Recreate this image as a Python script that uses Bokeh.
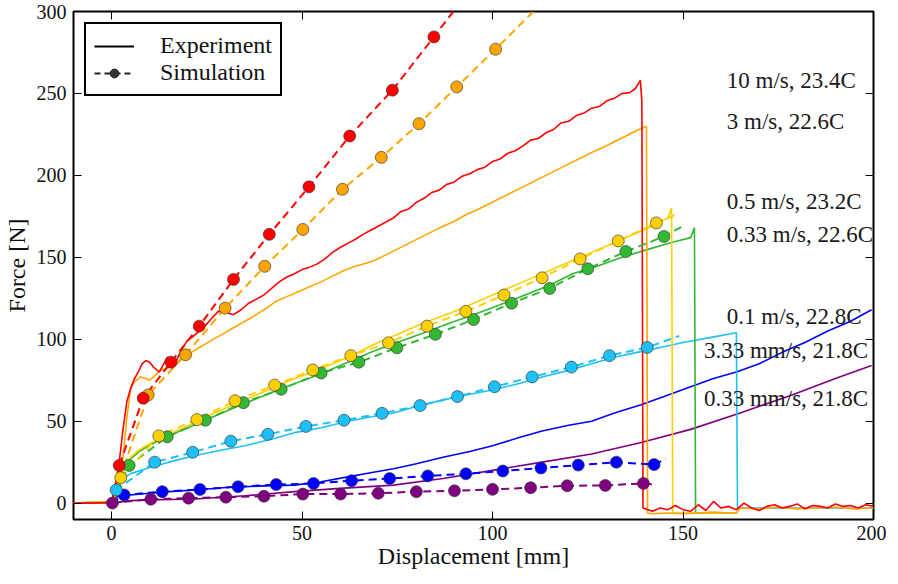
from bokeh.plotting import figure
from bokeh.models import Range1d, LinearAxis, FixedTicker, Legend, LegendItem, ColumnDataSource
from bokeh.core.properties import value
from bokeh.embed import file_html
from bokeh.resources import INLINE

FONT = "'Liberation Serif', 'DejaVu Serif', serif"
NAN = float("nan")

x_ticks = [0, 50, 100, 150, 200]
y_ticks = [0, 50, 100, 150, 200, 250, 300]

# ---------------- experiment (solid) ----------------
exp_red_x = [-10, -5, 0, 1, 2, 3, 4, 5, 6, 7, 8, 9, 10, 11, 12.5, 13.5, 14.6, 16, 17, 18, 19.8, 21, 22, 23,
             24.5, 26, 28, 30, 32, 34, 36, 38, 40, 42, 44, 46, 48, 50, 52, 54, 56, 58, 60, 62, 64, 66, 68,
             70, 72, 74, 76, 78, 80, 82, 84, 86, 88, 90, 92, 94, 96, 98, 100, 102, 104, 106, 108, 110, 112,
             114, 116, 118, 120, 122, 124, 126, 128, 130, 132, 134, 136, 137.5, 138.8, 139.2, 139.5,
             142, 144, 146, 148, 150, 152, 154, 156, 158, 160, 162, 164, 166, 168, 170, 172, 174, 176, 178,
             180, 182, 184, 186, 188, 190, 192, 194, 196, 198, 200]
exp_red_y = [0, 0, 0.5, 10, 25, 45, 62, 70, 76, 80, 85, 87, 86, 83, 80, 84, 89, 88, 87, 92, 99, 101, 103, 105,
             108, 112, 117, 116.5, 115, 118, 122, 124.5, 127, 131, 135, 138, 140, 142.5, 144, 146, 149, 153,
             156, 158.5, 161, 164, 166.5, 169, 171.5, 174, 178, 179.5, 183.5, 186, 189.5, 191, 194.5, 196,
             199.5, 201, 203.5, 205, 208.5, 210, 213.5, 215, 218, 221.5, 222.5, 226, 228, 232, 233, 236.5,
             238, 241, 242, 245.5, 247, 250, 250.5, 253, 258, 245, -3,
             -5, -3, -4, -1.5, -4, -5, -1, -4.5, 1, -3, -2, -4, 0, -3, -4.5, -2, -1, -3, -2, -0.5, -3.5, -1.5,
             -2, -3, -0.5, -2, -1.5, -3, -1, -2, -1.5]

exp_orange_x = [-10, -5, 0, 1, 2, 3, 4, 5, 6, 7.6, 9, 10, 11.5, 12.8, 14, 15.4, 17, 19, 21, 23, 26, 29, 32, 35,
                38, 41, 43, 46, 49, 52, 55, 58, 61, 64, 67, 69, 72, 75, 78, 81, 84, 87, 90, 93, 96, 99, 102,
                105, 108, 111, 114, 117, 120, 123, 126, 129, 132, 135, 138, 140.4, 140.7, 142, 146, 150, 154,
                158, 162, 164, 165, 170, 175, 180, 185, 190, 195, 200]
exp_orange_y = [0, 0, 0.3, 4, 12, 28, 52, 70, 74, 77, 76, 75, 78, 81, 82, 83, 86, 89, 92, 95, 99, 103, 107,
                111, 115, 119.5, 123, 126, 129, 132, 135, 138.5, 142, 144.5, 146.5, 148, 151.5, 155, 158.5,
                162, 165.5, 169, 172, 176, 179, 182.5, 186, 189.5, 193, 196.5, 200, 203.5, 207, 210.5, 214,
                217, 220.5, 224, 227.5, 230, -6, -6.5, -6, -6.5, -6, -5.5, -6, -6, -3, -3.5, -2.5, -3.5, -3,
                -2.5, -3.5, -3]

exp_yellow_x = [-10, 0, 1, 2.4, 3.5, 5, 7, 9, 11, 14, 18, 22, 27, 33, 40, 47, 55, 62, 69, 76, 82, 89, 95, 102,
                108, 115, 121, 128, 134, 141, 146, 147, 147.3, 164]
exp_yellow_y = [0, 1, 8, 16, 22, 28, 32, 35, 37.5, 41, 45, 49.5, 55, 61, 68, 75, 82, 89, 97, 104, 110, 116,
                122, 129, 135, 142, 148, 155, 161, 168, 174, 180, -6, -6]

exp_green_x = [-10, 0, 1, 2.4, 3.5, 5, 7, 9, 11, 14, 18, 22, 27, 33, 40, 47, 55, 62, 69, 76, 82, 89, 95, 102,
               108, 115, 121, 128, 134, 141, 147, 152, 153, 153.3, 164]
exp_green_y = [0, 1, 8, 16, 21, 27, 31, 34, 36.5, 40, 44, 48, 53, 59, 65.5, 72, 79, 86, 93, 99, 104, 110, 115,
               121, 126.5, 133, 140, 145, 150, 155, 159, 162, 168, -6, -6]

exp_cyan_x = [-10, 0, 0.8, 1.5, 3, 5, 9, 15, 22, 28, 35, 42, 48, 55, 62, 69, 74, 80, 87, 93, 100, 107, 113,
              120, 126, 132, 138, 144, 150, 157, 164, 164.3, 200]
exp_cyan_y = [0, 1, 6, 11, 15, 18, 21, 25, 29, 32, 35, 39, 43, 46, 50, 53, 55, 59, 63, 66, 69, 73, 77, 81, 85,
              89, 92, 95, 98, 101, 104, -3, -3]

exp_blue_x = [-10, 0, 1, 2, 5, 10, 15, 22, 30, 40, 48, 55, 62, 68, 74, 80, 87, 94, 100, 107, 113, 120, 126,
              132, 139, 145, 152, 158, 164, 170, 176, 182, 188, 194, 199.5]
exp_blue_y = [0, 0.5, 3, 4.5, 5, 6, 7, 8, 9.5, 10.5, 11, 13, 16, 18.5, 21, 24, 28, 31.5, 35, 40, 44, 47.5, 50,
              55, 60, 65, 71, 76, 80, 85, 92, 98, 105, 111, 118]

exp_purple_x = [-10, 0, 5, 10, 22, 35, 48, 60, 74, 87, 100, 113, 126, 139, 152, 165, 178.6, 190, 199.5]
exp_purple_y = [0, 0, 1.5, 2, 2.5, 4.5, 7, 9, 11, 15, 20, 25, 30, 37, 45, 55, 66, 76, 84]

# ---------------- simulation (dashed + markers; first/last are line ends) ----------------
sim_red_x = [0, 2, 8.3, 15.6, 23, 32, 41.4, 51.8, 62.5, 73.7, 84.6, 92]
sim_red_y = [0, 23, 64, 86, 108, 136.5, 164, 193, 224, 252, 284.5, 307]
sim_orange_x = [0, 9.6, 19.4, 29.8, 40.2, 50.2, 60.6, 70.8, 80.7, 90.6, 100.8, 112]
sim_orange_y = [0, 66, 90.5, 119, 144.5, 167, 191.5, 211, 231.5, 254, 277, 303]
sim_yellow_x = [0, 2.4, 12.4, 22.4, 32.4, 42.8, 52.8, 62.8, 72.7, 82.8, 93, 103, 113, 123, 133, 143, 148]
sim_yellow_y = [0, 15.5, 41, 51, 62.5, 72, 81.3, 90, 97.8, 108, 117, 127, 137.5, 149, 160, 171, 176]
sim_green_x = [0, 4.6, 14.6, 24.6, 34.6, 44.5, 55, 64.9, 74.9, 85, 95, 105, 115, 125, 135, 145, 150]
sim_green_y = [0, 23, 40.5, 50.6, 61.3, 69.5, 79.4, 86, 94.8, 103, 112, 122, 131, 143, 153.5, 162.7, 169]
sim_cyan_x = [0, 1.2, 11.3, 21.3, 31.3, 41, 51, 61, 71, 81, 90.8, 100.5, 110.4, 120.7, 130.7, 140.6, 149]
sim_cyan_y = [0, 8, 25, 31, 37.8, 42, 46.8, 50.6, 54.8, 59.5, 65, 71, 77, 83, 90, 95, 102]
sim_blue_x = [0, 3.3, 13.3, 23.2, 33.2, 43.2, 53, 63, 73, 83, 93, 102.7, 112.7, 122.5, 132.5, 142.4, 145.5]
sim_blue_y = [0, 5, 7, 8.3, 10, 11.3, 12, 13.7, 15, 16.6, 17.9, 19.6, 21.4, 23.2, 25, 23.5, 27]
sim_purple_x = [0, 0.2, 10.3, 20.2, 30, 40, 50.2, 60.1, 70, 80, 90, 100, 110, 119.6, 129.6, 139.6, 142.4]
sim_purple_y = [0, 0, 2.4, 3, 3.6, 4.2, 5.5, 5.5, 6, 7, 7.5, 8.4, 9.4, 10.6, 10.8, 12, 11.3]

# ---------------- annotations ----------------
ann_text = ["10 m/s, 23.4C", "3 m/s, 22.6C", "0.5 m/s, 23.2C", "0.33 m/s, 22.6C",
            "0.1 m/s, 22.8C", "3.33 mm/s, 21.8C", "0.33 mm/s, 21.8C"]
ann_x = [161.5, 161.5, 161.5, 161.5, 161.5, 155.5, 155.5]
ann_y = [258, 233, 184, 164, 114, 93, 64]

legend_labels = ["Experiment", "Simulation"]

colors = {
    "purple": "#800080",
    "blue": "#0000ff",
    "cyan": "#1ec0f5",
    "green": "#32b832",
    "yellow": "#ffd000",
    "orange": "#ffa500",
    "red": "#ff0000",
}

exp = {
    "purple": (exp_purple_x, exp_purple_y),
    "blue": (exp_blue_x, exp_blue_y),
    "cyan": (exp_cyan_x, exp_cyan_y),
    "green": (exp_green_x, exp_green_y),
    "yellow": (exp_yellow_x, exp_yellow_y),
    "orange": (exp_orange_x, exp_orange_y),
    "red": (exp_red_x, exp_red_y),
}
sim = {
    "purple": (sim_purple_x, sim_purple_y),
    "blue": (sim_blue_x, sim_blue_y),
    "cyan": (sim_cyan_x, sim_cyan_y),
    "green": (sim_green_x, sim_green_y),
    "yellow": (sim_yellow_x, sim_yellow_y),
    "orange": (sim_orange_x, sim_orange_y),
    "red": (sim_red_x, sim_red_y),
}

p = figure(frame_width=800, frame_height=508, x_range=Range1d(-10, 200), y_range=Range1d(-10, 300),
           output_backend="svg", toolbar_location=None,
           min_border_left=69, min_border_right=13, min_border_top=11, min_border_bottom=10)
p.xgrid.visible = False
p.ygrid.visible = False
p.outline_line_color = "black"
p.outline_line_width = 2
p.outline_line_alpha = 1
p.background_fill_color = "white"
p.border_fill_color = "white"

def style_axis(ax, ticks, show_labels=True):
    ax.ticker = FixedTicker(ticks=ticks)
    ax.axis_line_color = None
    ax.major_tick_in = 8
    ax.major_tick_out = 0
    ax.minor_tick_in = 0
    ax.minor_tick_out = 0
    ax.major_tick_line_color = "black"
    ax.major_tick_line_width = 1
    ax.major_label_text_font = FONT
    ax.major_label_text_color = "#111111"
    ax.axis_label_text_font = FONT
    ax.axis_label_text_font_style = "normal"
    ax.axis_label_text_color = "#111111"
    ax.axis_label_text_font_size = "24px"
    ax.major_label_text_font_size = "20px"
    if not show_labels:
        ax.major_label_overrides = {t: "" for t in ticks}
        ax.major_label_standoff = 0

style_axis(p.xaxis[0], x_ticks)
style_axis(p.yaxis[0], y_ticks)
p.xaxis[0].axis_label = "Displacement [mm]"
p.yaxis[0].axis_label = "Force [N]"
p.xaxis[0].major_label_standoff = 6
p.xaxis[0].axis_label_standoff = 0
p.yaxis[0].major_label_standoff = 7
p.yaxis[0].axis_label_standoff = 4

ax_r = LinearAxis()
style_axis(ax_r, y_ticks, show_labels=False)
p.add_layout(ax_r, "right")
ax_t = LinearAxis()
style_axis(ax_t, x_ticks, show_labels=False)
ax_t.major_label_text_font_size = "1px"
p.add_layout(ax_t, "above")

# experiment lines
for name in ["purple", "blue", "cyan", "green", "yellow", "orange", "red"]:
    xs, ys = exp[name]
    p.line(xs, ys, line_color=colors[name], line_width=1.6)

# simulation dashed lines
for name in ["purple", "blue", "cyan", "green", "yellow", "orange", "red"]:
    xs, ys = sim[name]
    p.line(xs, ys, line_color=colors[name], line_width=2, line_dash="8 5")

# simulation markers
for name in ["purple", "blue", "cyan", "green", "yellow", "orange", "red"]:
    xs, ys = sim[name]
    p.scatter(xs[1:-1], ys[1:-1], size=12, fill_color=colors[name], line_color="#333333",
              line_width=0.8, line_alpha=0.8)

# annotations
src = ColumnDataSource(dict(x=ann_x, y=ann_y, text=ann_text))
p.text(x="x", y="y", text="text", source=src, text_font=value(FONT), text_font_size="23px",
       text_baseline="middle", text_align="left", text_color="#1a1a1a")

# legend (legend-only renderers: NaN data draws nothing in the plot)
r_exp = p.line([NAN], [NAN], line_color="black", line_width=2)
r_sim_l = p.line([NAN], [NAN], line_color="#222222", line_width=2, line_dash="6 4")
r_sim_p = p.scatter([NAN], [NAN], size=12, fill_color="#333333", line_color="#222222")
legend = Legend(items=[LegendItem(label=legend_labels[0], renderers=[r_exp]),
                       LegendItem(label=legend_labels[1], renderers=[r_sim_l, r_sim_p])],
                location="top_left", label_text_font=FONT, label_text_font_size="24px",
                label_text_color="#111111",
                border_line_color="black", border_line_width=2, border_line_alpha=1,
                glyph_width=40, glyph_height=22, label_standoff=26, padding=8, spacing=0, margin=11,
                background_fill_alpha=1)
p.add_layout(legend)

open("out.html", "w").write(file_html(p, INLINE))
